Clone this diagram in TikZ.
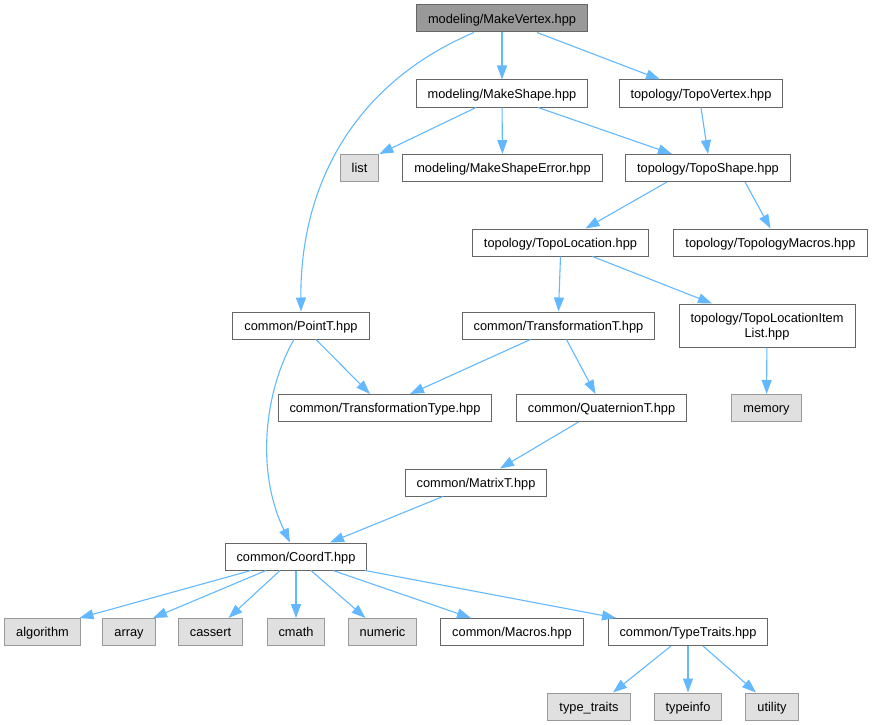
\documentclass[tikz,border=0pt]{standalone}
\usepackage{fontspec}
\setmainfont{Liberation Sans}
\usetikzlibrary{arrows.meta}

\definecolor{edgeblue}{HTML}{63B8FF}
\definecolor{rootgray}{HTML}{999999}
\definecolor{sysgray}{HTML}{E0E0E0}
\definecolor{framegray}{HTML}{666666}

\begin{document}
\begin{tikzpicture}[
    x=1pt, y=-1pt,
    every node/.style={font=\fontsize{12.8}{15}\selectfont, inner xsep=11.5pt, inner ysep=0pt, minimum height=27pt, text height=10pt, text depth=0.8pt, line width=1pt},
    hdrbox/.style={draw=framegray, fill=white},
    rootbox/.style={draw=framegray, fill=rootgray},
    sysbox/.style={draw=rootgray, fill=sysgray},
    dep/.style={draw=edgeblue, line width=1.1pt, -{Triangle[length=14pt,width=10pt]}}
]
    \useasboundingbox (0,0) rectangle (873,725);

    % Top rows
    \node[rootbox] (mvertex) at (502,18.5) {modeling/MakeVertex.hpp};
    \node[hdrbox] (mshape) at (502,93.5) {modeling/MakeShape.hpp};
    \node[hdrbox] (tvertex) at (701,93.5) {topology/TopoVertex.hpp};
    \node[sysbox] (list) at (359.5,168) {list};
    \node[hdrbox] (mserror) at (502.5,168) {modeling/MakeShapeError.hpp};
    \node[hdrbox] (tshape) at (708,168) {topology/TopoShape.hpp};

    % Topology
    \node[hdrbox] (tloc) at (560.5,242.5) {topology/TopoLocation.hpp};
    \node[hdrbox] (tmacros) at (770.5,242.5) {topology/TopologyMacros.hpp};
    \node[hdrbox, align=center, minimum height=43pt, text height=24.2pt, text depth=0pt] (tlitem) at (767,325.5) {topology/TopoLocationItem\\List.hpp};
    \node[sysbox] (memory) at (766.5,408) {memory};

    % Common
    \node[hdrbox] (pointt) at (301,325.5) {common/PointT.hpp};
    \node[hdrbox] (transft) at (558.5,325.5) {common/TransformationT.hpp};
    \node[hdrbox] (transftype) at (385,408) {common/TransformationType.hpp};
    \node[hdrbox] (quatt) at (601.5,408) {common/QuaternionT.hpp};
    \node[hdrbox] (matrixt) at (476,482.5) {common/MatrixT.hpp};
    \node[hdrbox] (coordt) at (296,556.5) {common/CoordT.hpp};
    \node[hdrbox] (macros) at (512,632) {common/Macros.hpp};
    \node[hdrbox] (typetr) at (688,632) {common/TypeTraits.hpp};

    % Standard headers
    \foreach \n/\x/\t in {algorithm/42.5/algorithm, array/129/array, cassert/210.5/cassert, cmath/296/cmath, numeric/382.5/numeric} {
        \node[sysbox] (\n) at (\x,632) {\t};
    }
    \foreach \n/\x/\t in {typetraits/589/type\_traits, typeinfo/688/typeinfo, utility/772/utility} {
        \node[sysbox] (\n) at (\x,706.5) {\t};
    }

    % Edges
    \draw[dep] (mvertex) -- (mshape);
    \draw[dep] ([xshift=35pt]mvertex.south) -- ([xshift=-41pt]tvertex.north);
    \draw[dep] ([xshift=-28pt]mvertex.south) .. controls (350,85) and (300,190) .. (pointt.north);
    \draw[dep] ([xshift=-26pt]mshape.south) -- (list.north east);
    \draw[dep] (mshape) -- (mserror);
    \draw[dep] ([xshift=36pt]mshape.south) -- ([xshift=-36pt]tshape.north);
    \draw[dep] (tvertex.south) -- (tshape.north);
    \draw[dep] ([xshift=-41pt]tshape.south) -- ([xshift=25pt]tloc.north);
    \draw[dep] ([xshift=37pt]tshape.south) -- (tmacros.north);
    \draw[dep] (tloc.south) -- (transft.north);
    \draw[dep] ([xshift=32pt]tloc.south) -- ([xshift=-55pt]tlitem.north);
    \draw[dep] (tlitem) -- (memory);
    \draw[dep] ([xshift=15pt]pointt.south) -- ([xshift=-15pt]transftype.north);
    \draw[dep] ([xshift=-7pt]pointt.south) .. controls (265,390) and (255,470) .. ([xshift=-6pt]coordt.north);
    \draw[dep] ([xshift=-28pt]transft.south) -- ([xshift=25pt]transftype.north);
    \draw[dep] ([xshift=8pt]transft.south) -- ([xshift=-6pt]quatt.north);
    \draw[dep] ([xshift=-23pt]quatt.south) -- ([xshift=24pt]matrixt.north);
    \draw[dep] ([xshift=-33pt]matrixt.south) -- ([xshift=34pt]coordt.north);
    \foreach \s/\n/\e in {-45/algorithm/37, -30/array/24, -16/cassert/18, 0/cmath/0, 15/numeric/-17, 37/macros/-41, 69/typetr/-72} {
        \draw[dep] ([xshift=\s pt]coordt.south) -- ([xshift=\e pt]\n.north);
    }
    \draw[dep] ([xshift=-17pt]typetr.south) -- ([xshift=24pt]typetraits.north);
    \draw[dep] (typetr) -- (typeinfo);
    \draw[dep] ([xshift=15pt]typetr.south) -- ([xshift=-16pt]utility.north);
\end{tikzpicture}
\end{document}
